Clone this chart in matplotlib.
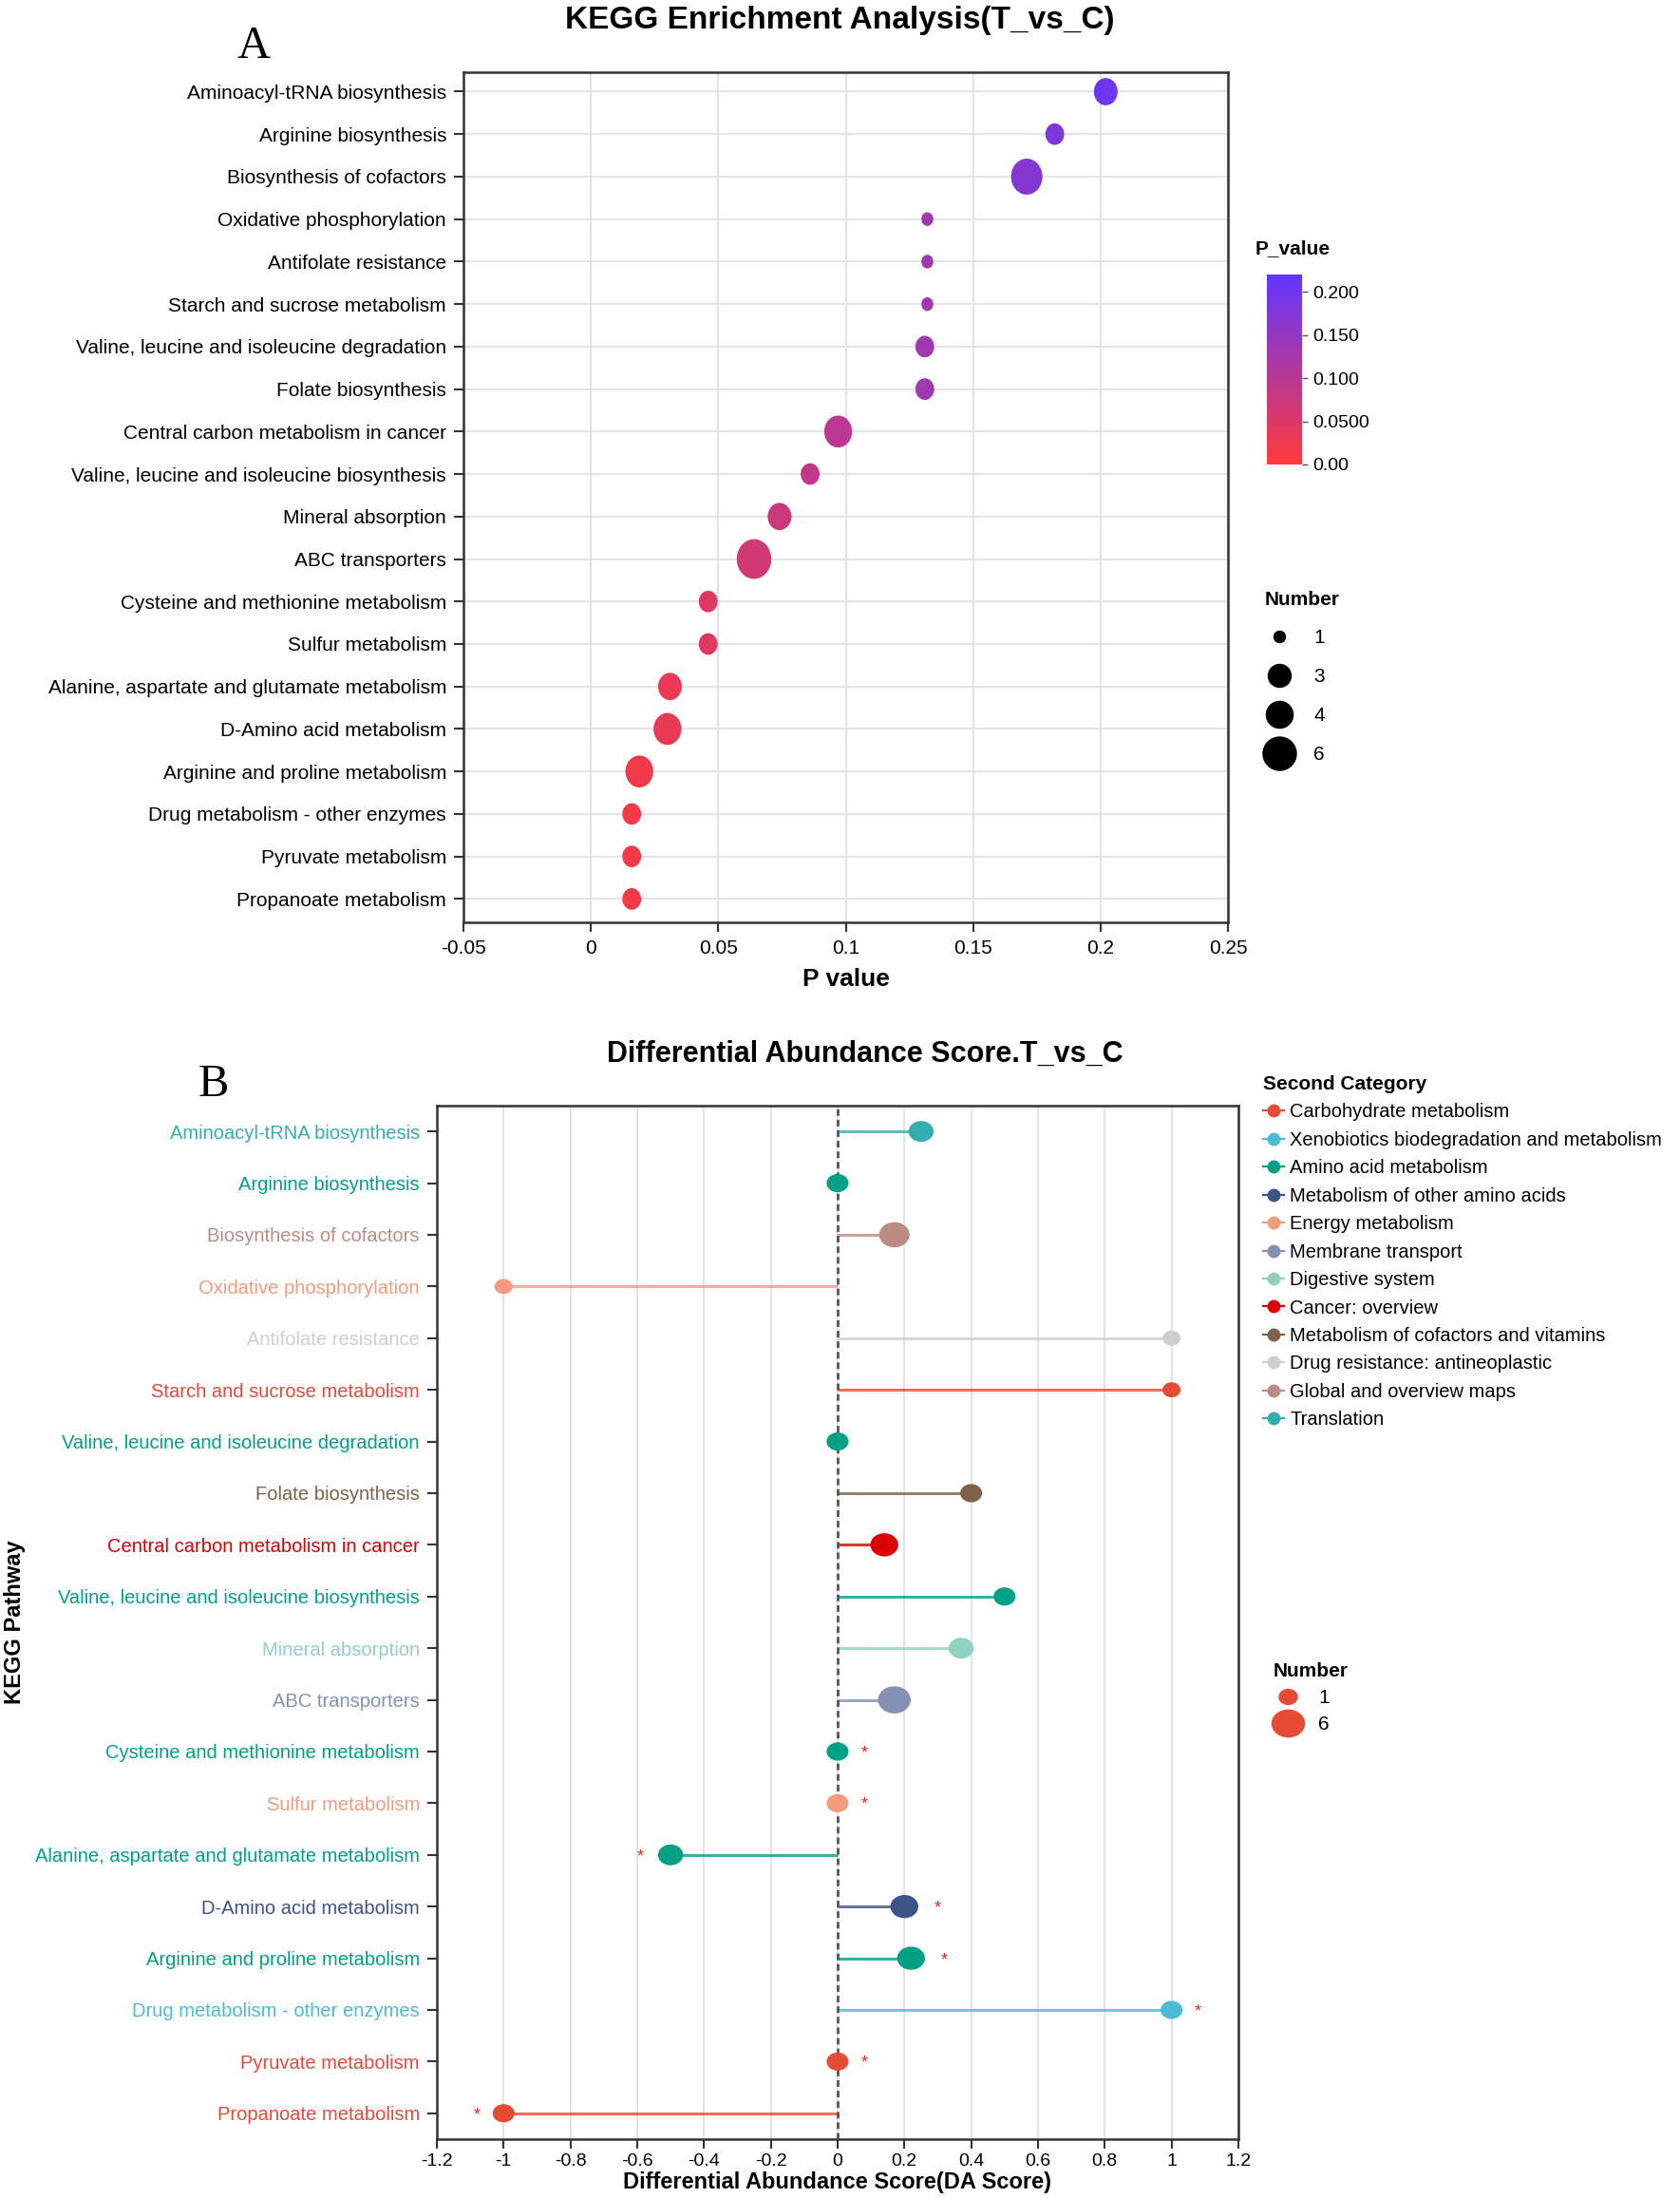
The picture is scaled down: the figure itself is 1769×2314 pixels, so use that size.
import numpy as np
import matplotlib.pyplot as plt
from matplotlib.colors import LinearSegmentedColormap
from matplotlib.lines import Line2D
from matplotlib.path import Path
from matplotlib.transforms import Affine2D

plt.rcParams['font.family'] = ['Liberation Sans', 'DejaVu Sans']

# data
pathways = [
    "Aminoacyl-tRNA biosynthesis",
    "Arginine biosynthesis",
    "Biosynthesis of cofactors",
    "Oxidative phosphorylation",
    "Antifolate resistance",
    "Starch and sucrose metabolism",
    "Valine, leucine and isoleucine degradation",
    "Folate biosynthesis",
    "Central carbon metabolism in cancer",
    "Valine, leucine and isoleucine biosynthesis",
    "Mineral absorption",
    "ABC transporters",
    "Cysteine and methionine metabolism",
    "Sulfur metabolism",
    "Alanine, aspartate and glutamate metabolism",
    "D-Amino acid metabolism",
    "Arginine and proline metabolism",
    "Drug metabolism - other enzymes",
    "Pyruvate metabolism",
    "Propanoate metabolism",
]
p_values = [0.202, 0.182, 0.171, 0.132, 0.132, 0.132, 0.131, 0.131, 0.097, 0.086,
            0.074, 0.064, 0.046, 0.046, 0.031, 0.030, 0.019, 0.016, 0.016, 0.016]
numbers = [3, 2, 5, 1, 1, 1, 2, 2, 4, 2, 3, 6, 2, 2, 3, 4, 4, 2, 2, 2]

pathway_category = [
    "Translation",
    "Amino acid metabolism",
    "Global and overview maps",
    "Energy metabolism",
    "Drug resistance: antineoplastic",
    "Carbohydrate metabolism",
    "Amino acid metabolism",
    "Metabolism of cofactors and vitamins",
    "Cancer: overview",
    "Amino acid metabolism",
    "Digestive system",
    "Membrane transport",
    "Amino acid metabolism",
    "Energy metabolism",
    "Amino acid metabolism",
    "Metabolism of other amino acids",
    "Amino acid metabolism",
    "Xenobiotics biodegradation and metabolism",
    "Carbohydrate metabolism",
    "Carbohydrate metabolism",
]
da_scores = [0.25, 0, 0.17, -1, 1, 1, 0, 0.4, 0.14, 0.5,
             0.37, 0.17, 0, 0, -0.5, 0.2, 0.22, 1, 0, -1]
significant = [False] * 12 + [True] * 8

categories = [
    "Carbohydrate metabolism",
    "Xenobiotics biodegradation and metabolism",
    "Amino acid metabolism",
    "Metabolism of other amino acids",
    "Energy metabolism",
    "Membrane transport",
    "Digestive system",
    "Cancer: overview",
    "Metabolism of cofactors and vitamins",
    "Drug resistance: antineoplastic",
    "Global and overview maps",
    "Translation",
]
category_colors = ["#E64B35", "#4DBBD5", "#00A087", "#3C5488", "#F39B7F", "#8491B4",
                   "#91D1C2", "#DC0000", "#7E6148", "#CFCFCF", "#BC8B83", "#35ADAF"]
cat_color = dict(zip(categories, category_colors))

size_legend_a = [1, 3, 4, 6]
size_legend_b = [1, 6]

# markers a bit stretched like in the original picture
ell_tall = Path.unit_circle().transformed(Affine2D().scale(0.87, 1.0))
ell_wide = Path.unit_circle().transformed(Affine2D().scale(1.0, 0.83))

fig = plt.figure(figsize=(17.69, 23.14), dpi=100)
grid_c = "#E3E3E3"
spine_c = "#333333"

# ---------------- panel A ----------------
ax = fig.add_axes([0.2759, 0.5804, 0.731 - 0.2759, 0.967 - 0.5804])
y = np.arange(len(pathways))
cmap = LinearSegmentedColormap.from_list("pv", ["#FF3A3A", "#6236FF"])
n = np.array(numbers)
sc = ax.scatter(p_values, y, s=160 * n - 52, c=p_values, cmap=cmap, vmin=0, vmax=0.22,
                marker=ell_tall, linewidths=0, zorder=3)
ax.set_xlim(-0.05, 0.25)
ax.set_xticks([-0.05, 0, 0.05, 0.1, 0.15, 0.2, 0.25])
ax.set_xticklabels(["-0.05", "0", "0.05", "0.1", "0.15", "0.2", "0.25"])
ax.set_yticks(y)
ax.set_yticklabels(pathways)
ax.set_ylim(19.55, -0.45)
ax.grid(True, color=grid_c, lw=1.5, zorder=0)
ax.set_axisbelow(True)
for s in ax.spines.values():
    s.set_color(spine_c)
    s.set_linewidth(1.8)
ax.tick_params(axis="both", labelsize=15, length=7, width=1.5, color=spine_c, pad=6)
ax.set_xlabel("P value", fontsize=19, fontweight="bold", labelpad=8)

fig.text(0.5, 0.9905, "KEGG Enrichment Analysis(T_vs_C)", ha="center", va="center",
         fontsize=24, fontweight="bold")
fig.text(0.151, 0.979, "A", ha="center", va="center", fontsize=35,
         family=["Liberation Serif", "DejaVu Serif"])

cax = fig.add_axes([0.754, 0.7887, 0.021, 0.0864])
cb = fig.colorbar(sc, cax=cax, ticks=[0, 0.05, 0.1, 0.15, 0.2])
cb.ax.set_yticklabels(["0.00", "0.0500", "0.100", "0.150", "0.200"])
cb.outline.set_visible(False)
cb.ax.tick_params(labelsize=14, length=4, width=1, color="#555555", pad=4)
fig.text(0.747, 0.887, "P_value", fontsize=15, fontweight="bold", va="center")

handles_a = [Line2D([0], [0], marker="o", color="black", linestyle="none",
                    markersize=0.72 * np.sqrt(216 * k - 72)) for k in size_legend_a]
leg_a = fig.legend(handles_a, [str(k) for k in size_legend_a], loc="upper left",
                   bbox_to_anchor=(0.742, 0.7395), frameon=False, fontsize=15,
                   title="Number", title_fontproperties={"weight": "bold", "size": 15},
                   alignment="left", labelspacing=1.05, handletextpad=1.0,
                   handlelength=1.5)

# ---------------- panel B ----------------
bx = fig.add_axes([0.26, 0.0268, 0.7371 - 0.26, 0.497 - 0.0268])
colors_b = [cat_color[c] for c in pathway_category]
da = np.array(da_scores)
bx.hlines(y, 0, da, colors=colors_b, lw=2.2, alpha=0.8, zorder=2)
bx.scatter(da, y, s=85 * n + 106, c=colors_b, marker=ell_wide, linewidths=0, zorder=4)
bx.axvline(0, color="#555555", lw=2, ls=(0, (2.5, 1.5)), zorder=3)
for yi, score, k, sig in zip(y, da_scores, numbers, significant):
    if sig:
        off = 0.06 + 0.01 * k
        xs = score - off if score < 0 else score + off
        bx.text(xs, yi, "*", color="#E8261E", fontsize=13, ha="center",
                va="center_baseline", zorder=5)
bx.set_xlim(-1.2, 1.2)
ticks_b = np.round(np.arange(-1.2, 1.21, 0.2), 1)
bx.set_xticks(ticks_b)
bx.set_xticklabels(["0" if t == 0 else ("%g" % t) for t in ticks_b])
bx.set_yticks(y)
bx.set_yticklabels(pathways)
for lab, c in zip(bx.get_yticklabels(), colors_b):
    lab.set_color(c)
bx.set_ylim(19.5, -0.5)
bx.grid(True, axis="x", color=grid_c, lw=1.5, zorder=0)
bx.set_axisbelow(True)
for s in bx.spines.values():
    s.set_color(spine_c)
    s.set_linewidth(1.8)
bx.tick_params(axis="both", labelsize=14.5, length=7, width=1.5, color=spine_c, pad=6)
bx.tick_params(axis="x", labelsize=14, pad=4)
bx.set_xlabel("Differential Abundance Score(DA Score)", fontsize=17, fontweight="bold",
              labelpad=1)
fig.text(0.009, 0.262, "KEGG Pathway", rotation=90, ha="center", va="center",
         fontsize=17, fontweight="bold")

fig.text(0.515, 0.5205, "Differential Abundance Score.T_vs_C", ha="center", va="center",
         fontsize=22, fontweight="bold")
fig.text(0.127, 0.5065, "B", ha="center", va="center", fontsize=35,
         family=["Liberation Serif", "DejaVu Serif"])

handles_b = [Line2D([0], [0], color=c, marker="o", markersize=9, lw=1.6)
             for c in category_colors]
fig.legend(handles_b, categories, loc="upper left", bbox_to_anchor=(0.744, 0.517),
           frameon=False, fontsize=14.5, title="Second Category",
           title_fontproperties={"weight": "bold", "size": 15}, alignment="left",
           labelspacing=0.52, handlelength=1.1, handletextpad=0.3,
           borderaxespad=0.3)

handles_nb = [Line2D([0], [0], marker=ell_wide, color="#E64B35", linestyle="none",
                     markersize=m) for m in [13.7, 24.5]]
fig.legend(handles_nb, [str(k) for k in size_legend_b], loc="upper left",
           bbox_to_anchor=(0.747, 0.252), frameon=False, fontsize=15,
           title="Number", title_fontproperties={"weight": "bold", "size": 15},
           alignment="left", labelspacing=0.45, handlelength=1.5, handletextpad=0.8)

fig.savefig("out.png", dpi=100)
